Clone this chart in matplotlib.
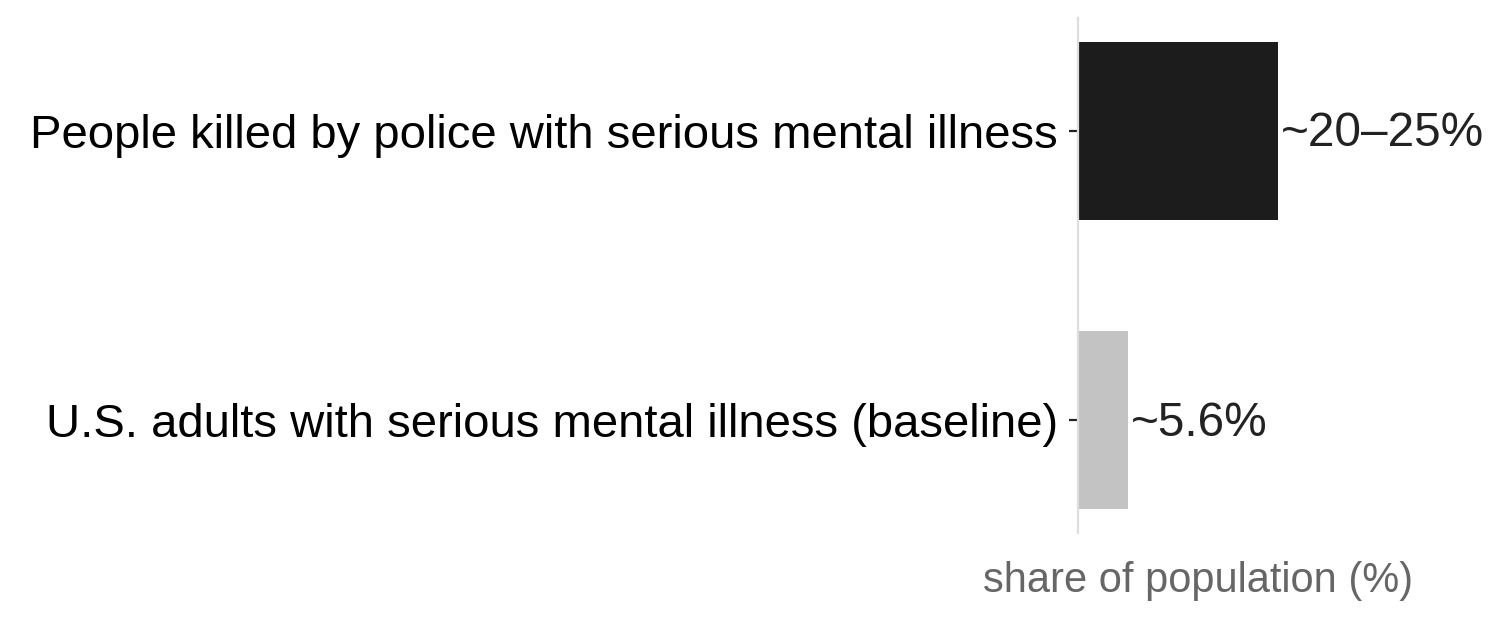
import matplotlib
matplotlib.use('Agg')
import matplotlib.pyplot as plt

plt.rcParams['font.family'] = ['Liberation Sans', 'DejaVu Sans']

# data
categories = ['U.S. adults with serious mental illness (baseline)',
              'People killed by police with serious mental illness']
values = [5.6, 22.5]
bar_labels = ['~5.6%', '~20–25%']
colors = ['#c3c3c3', '#1c1c1c']

fig = plt.figure(figsize=(7.53, 3.095), dpi=200)
ax = fig.add_axes([1078 / 1506, 1 - 533 / 619, 240 / 1506, 515 / 619])

bars = ax.barh(categories, values, height=0.615, color=colors)
for b, lab in zip(bars, bar_labels):
    ax.text(b.get_width() + 0.3, b.get_y() + b.get_height() / 2 - 0.01, lab,
            va='center', ha='left', fontsize=17.2, color='#222222')

ax.set_xlim(0, 27)
ax.set_ylim(-0.39, 1.39)
ax.set_xticks([])
ax.tick_params(axis='y', labelsize=17, length=3.2, width=0.8, colors='#222222', labelcolor='black', pad=4)
for s in ['top', 'right', 'bottom']:
    ax.spines[s].set_visible(False)
ax.spines['left'].set_color('#dddddd')
ax.spines['left'].set_linewidth(0.8)
ax.set_xlabel('share of population (%)', fontsize=15, color='#666666', labelpad=10)

fig.savefig('out.png', dpi=200)
